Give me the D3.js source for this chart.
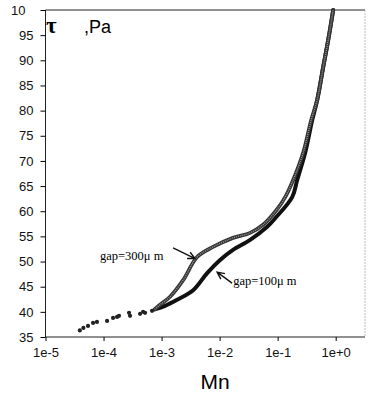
<!DOCTYPE html>
<html>
<head>
<meta charset="utf-8">
<script src="https://cdn.jsdelivr.net/npm/d3@7"></script>
<style>
  body { margin: 0; background: #fff; }
  svg { display: block; }
  .tick text { font-family: Arial, "Liberation Sans", sans-serif; font-size: 13px; fill: #111; }
</style>
</head>
<body>
<svg width="369" height="395"></svg>
<script>
// gap = 300 um (grey hatched curve)
var mn300  = [7.6e-4, 9.4e-4, 1.4e-3, 2.35e-3, 4.1e-3, 7.7e-3, 1.7e-2, 3.36e-2, 5.6e-2, 9.5e-2, 0.135, 0.185, 0.275, 0.378, 0.48, 0.61, 0.743, 0.906];
var tau300 = [40.5, 41.4, 43.0, 46.3, 50.9, 52.9, 54.7, 55.7, 57.3, 60.2, 62.8, 66.2, 71.6, 78.1, 82.1, 88.7, 94.0, 100];

// gap = 100 um (black curve)
var mn100  = [7.6e-4, 1.15e-3, 1.85e-3, 3.5e-3, 6.1e-3, 1.02e-2, 1.7e-2, 3.36e-2, 6.6e-2, 9.06e-2, 0.178, 0.217, 0.298, 0.394, 0.48, 0.61, 0.743, 0.906];
var tau100 = [40.5, 41.2, 42.4, 44.3, 47.7, 50.3, 52.3, 54.3, 56.9, 58.6, 62.8, 66.2, 71.6, 78.1, 82.1, 88.7, 94.0, 100];

// sparse points at low Mn (both gaps)
var mnLow  = [3.9e-5, 4.5e-5, 5.4e-5, 6.6e-5, 7.7e-5, 1.15e-4, 1.46e-4, 1.71e-4, 1.85e-4, 2.75e-4, 2.86e-4, 4.26e-4, 4.8e-4, 5.2e-4, 6.85e-4];
var tauLow = [36.3, 36.8, 37.2, 37.8, 38.0, 38.2, 38.8, 39.0, 39.2, 39.8, 39.2, 39.6, 40.0, 39.8, 40.2];

var xTicks = [1e-5, 1e-4, 1e-3, 1e-2, 1e-1, 1];
var xTickLabels = ["1e-5", "1e-4", "1e-3", "1e-2", "1e-1", "1e+0"];
var yTicks = [35, 40, 45, 50, 55, 60, 65, 70, 75, 80, 85, 90, 95, 100];
var yTickLabels = ["35", "40", "45", "50", "55", "60", "65", "70", "75", "80", "85", "90", "95", "10"];

var svg = d3.select("svg");
var mLeft = 45.5, mRight = 365, mTop = 10, mBottom = 337;

var x = d3.scaleLog().domain([1e-5, 3.2]).range([mLeft, mRight]);
var y = d3.scaleLinear().domain([35, 100]).range([mBottom, mTop]);

// frame
svg.append("line").attr("x1", mLeft).attr("x2", mRight).attr("y1", mTop).attr("y2", mTop)
    .attr("stroke", "#222").attr("stroke-width", 1);
svg.append("line").attr("x1", mRight).attr("x2", mRight).attr("y1", mTop).attr("y2", mBottom)
    .attr("stroke", "#aaa").attr("stroke-width", 0.8).attr("stroke-dasharray", "2,1");

// axes
var xAxis = d3.axisBottom(x).tickValues(xTicks).tickSize(4).tickPadding(7)
    .tickFormat(function(d, i) { return xTickLabels[i]; });
var gx = svg.append("g").attr("transform", "translate(0," + mBottom + ")").call(xAxis);
gx.select(".domain").attr("stroke", "#222").attr("d", "M" + mLeft + ",0H" + mRight);

var yAxis = d3.axisLeft(y).tickValues(yTicks).tickSize(5).tickPadding(7)
    .tickFormat(function(d, i) { return yTickLabels[i]; });
var gy = svg.append("g").attr("transform", "translate(" + mLeft + ",0)").call(yAxis);
gy.select(".domain").attr("stroke", "#222").attr("d", "M0," + mBottom + "V" + mTop);
gy.selectAll(".tick text").filter(function(d) { return d == 100; }).attr("dx", -8);

// curves
var line = d3.line()
    .x(function(d) { return x(d[0]); })
    .y(function(d) { return y(d[1]); })
    .curve(d3.curveCatmullRom.alpha(0.5));

var data100 = mn100.map(function(m, i) { return [m, tau100[i]]; });
var data300 = mn300.map(function(m, i) { return [m, tau300[i]]; });

svg.append("path").datum(data100).attr("d", line)
    .attr("fill", "none").attr("stroke", "#111").attr("stroke-width", 4)
    .attr("stroke-linecap", "round");

svg.append("path").datum(data300).attr("d", line)
    .attr("fill", "none").attr("stroke", "#333").attr("stroke-width", 3.8)
    .attr("stroke-linecap", "round");
svg.append("path").datum(data300).attr("d", line)
    .attr("fill", "none").attr("stroke", "#999").attr("stroke-width", 1.4)
    .attr("stroke-dasharray", "1,1");

svg.selectAll("circle.low").data(mnLow).enter().append("circle")
    .attr("class", "low")
    .attr("cx", function(d) { return x(d); })
    .attr("cy", function(d, i) { return y(tauLow[i]); })
    .attr("r", 2.1)
    .attr("fill", "#222");

// annotations
function arrow(x1, y1, x2, y2) {
    var a = Math.atan2(y2 - y1, x2 - x1), h = 8, s = 0.45;
    var p = "M" + x1 + "," + y1 + "L" + x2 + "," + y2 +
        "M" + (x2 - h * Math.cos(a - s)) + "," + (y2 - h * Math.sin(a - s)) + "L" + x2 + "," + y2 +
        "L" + (x2 - h * Math.cos(a + s)) + "," + (y2 - h * Math.sin(a + s));
    svg.append("path").attr("d", p).attr("fill", "none").attr("stroke", "#111").attr("stroke-width", 1.4);
}
arrow(x(1.58e-3), y(52.7), x(3.78e-3), y(50.6));
arrow(x(1.64e-2), y(45.7), x(9.06e-3), y(47.9));

svg.append("text").attr("x", x(8.7e-5)).attr("y", y(50.3))
    .attr("font-family", "'Liberation Serif', 'Times New Roman', serif").attr("font-size", 12.5)
    .text("gap=300μ m");
svg.append("text").attr("x", x(1.71e-2)).attr("y", y(45.3))
    .attr("font-family", "'Liberation Serif', 'Times New Roman', serif").attr("font-size", 12.5)
    .text("gap=100μ m");

// axis titles
svg.append("text").attr("x", 46).attr("y", 33)
    .attr("font-family", "'Liberation Serif', 'Times New Roman', serif").attr("font-size", 23).attr("font-weight", "bold")
    .text("τ");
svg.append("text").attr("x", 84).attr("y", 33)
    .attr("font-family", "Arial, 'Liberation Sans', sans-serif").attr("font-size", 18)
    .text(",Pa");
svg.append("text").attr("x", 215).attr("y", 389).attr("text-anchor", "middle")
    .attr("font-family", "Arial, 'Liberation Sans', sans-serif").attr("font-size", 21)
    .text("Mn");
</script>
</body>
</html>
